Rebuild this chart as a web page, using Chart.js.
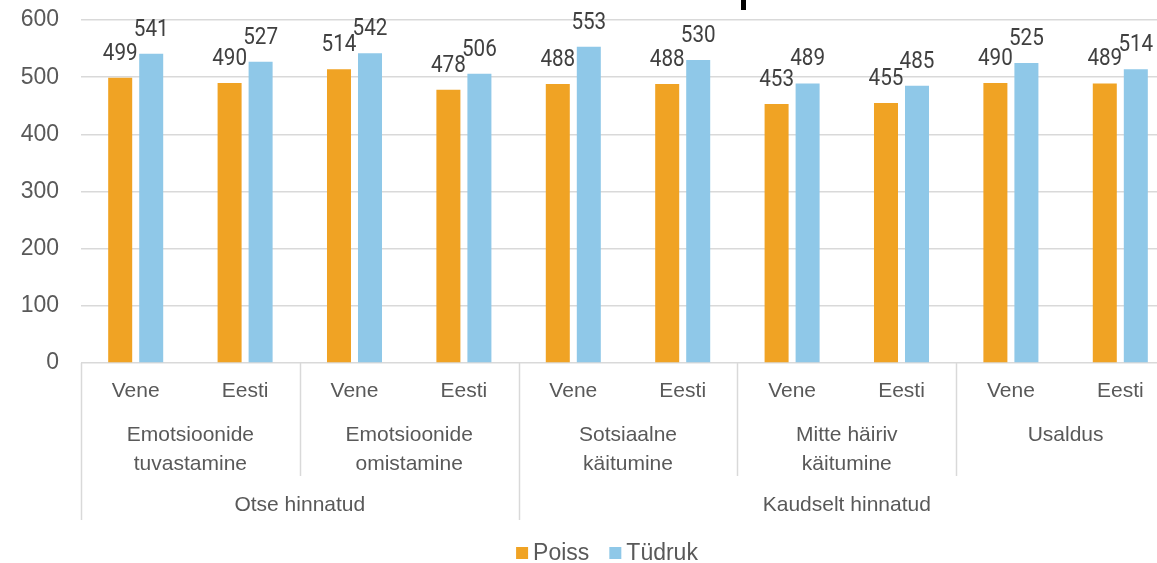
<!DOCTYPE html>
<html>
<head>
<meta charset="utf-8">
<script src="https://cdn.jsdelivr.net/npm/chart.js@4"></script>
<style>
  html, body { margin: 0; padding: 0; background: #fff; overflow: hidden; }
  #wrap { width: 1157px; height: 563px; overflow: hidden; }
</style>
</head>
<body>
<div id="wrap"><canvas id="chart" width="1214" height="563"></canvas></div>
<script>
// Chart data
const languages = ['Vene', 'Eesti', 'Vene', 'Eesti', 'Vene', 'Eesti', 'Vene', 'Eesti', 'Vene', 'Eesti'];
const skills = [['Emotsioonide', 'tuvastamine'], ['Emotsioonide', 'omistamine'], ['Sotsiaalne', 'käitumine'], ['Mitte häiriv', 'käitumine'], ['Usaldus']];
const ratings = ['Otse hinnatud', 'Kaudselt hinnatud'];
const skillsPerRating = [2, 3];
const poiss = [499, 490, 514, 478, 488, 488, 453, 455, 490, 489];
const tudruk = [541, 527, 542, 506, 553, 530, 489, 485, 525, 514];
const yTicks = [0, 100, 200, 300, 400, 500, 600];

// Colours and fonts
var orange = '#F0A324';
var blue = '#8FC8E8';
var textGray = '#595959';
var lineGray = '#D9D9D9';
var fontFamily = '"Liberation Sans", Arial, sans-serif';

const labels = languages.map((l, i) => skills[Math.floor(i / 2)].join(' ') + ' ' + l);

// multi-level category axis, value labels and legend
const decorations = {
  id: 'decorations',
  afterDatasetsDraw(chart) {
    const ctx = chart.ctx;
    const area = chart.chartArea;
    const x = chart.scales.x;
    const catW = (area.right - area.left) / languages.length;

    // value labels above the bars
    ctx.save();
    ctx.fillStyle = '#404040';
    ctx.textAlign = 'center';
    ctx.textBaseline = 'alphabetic';
    ctx.font = '24px Roboto';
    chart.data.datasets.forEach((ds, di) => {
      chart.getDatasetMeta(di).data.forEach((bar, i) => {
        ctx.save();
        ctx.translate(bar.x, bar.y - 18);
        ctx.scale(0.86, 1);
        ctx.fillText(String(ds.data[i]), 0, 0);
        ctx.restore();
      });
    });
    ctx.restore();

    // category labels
    ctx.save();
    ctx.fillStyle = textGray;
    ctx.textAlign = 'center';
    ctx.textBaseline = 'middle';
    ctx.font = '21px ' + fontFamily;
    languages.forEach((l, i) => {
      ctx.fillText(l, x.getPixelForValue(i), area.bottom + 28);
    });
    skills.forEach((s, g) => {
      const cx = area.left + catW * (g * 2 + 1);
      s.forEach((line, k) => ctx.fillText(line, cx, area.bottom + 72 + k * 29));
    });
    let start = 0;
    ratings.forEach((r, k) => {
      const n = skillsPerRating[k] * 2;
      const cx = area.left + catW * (start + n / 2);
      ctx.fillText(r, cx, area.bottom + 142);
      start += n;
    });

    // separators
    ctx.strokeStyle = lineGray;
    ctx.lineWidth = 1.5;
    const ratingEdges = [0];
    skillsPerRating.reduce((acc, n) => { ratingEdges.push(acc + n * 2); return acc + n * 2; }, 0);
    for (let i = 0; i <= languages.length; i += 2) {
      const px = Math.round(area.left + catW * i) + 0.5;
      const long = ratingEdges.includes(i);
      ctx.beginPath();
      ctx.moveTo(px, area.bottom);
      ctx.lineTo(px, area.bottom + (long ? 157 : 113));
      ctx.stroke();
    }

    // legend
    ctx.font = '23px ' + fontFamily;
    ctx.textAlign = 'left';
    const items = chart.data.datasets.map(d => ({ text: d.label, color: d.backgroundColor }));
    const box = 12, gapBox = 5, gapItem = 20;
    const widths = items.map(it => box + gapBox + ctx.measureText(it.text).width);
    const total = widths.reduce((a, b) => a + b, 0) + gapItem * (items.length - 1);
    let lx = chart.width / 2 - total / 2;
    const ly = 553;
    items.forEach((it, k) => {
      ctx.fillStyle = it.color;
      ctx.fillRect(lx, ly - box / 2, box, box);
      ctx.fillStyle = textGray;
      ctx.fillText(it.text, lx + box + gapBox, ly + 1);
      lx += widths[k] + gapItem;
    });

    // clipped title remnant at the top
    ctx.fillStyle = '#000';
    ctx.fillRect(741, 0, 5, 10);
    ctx.restore();
  }
};

const config = {
  type: 'bar',
  data: {
    labels: labels,
    datasets: [
      { label: 'Poiss', data: poiss, backgroundColor: orange },
      { label: 'Tüdruk', data: tudruk, backgroundColor: blue }
    ]
  },
  options: {
    responsive: false,
    animation: false,
    categoryPercentage: 0.567,
    barPercentage: 0.774,
    layout: { padding: { top: 20, right: 39, left: 0, bottom: 0 } },
    plugins: {
      legend: { display: false },
      tooltip: { enabled: false },
      title: { display: false }
    },
    scales: {
      x: {
        grid: { display: false },
        border: { display: false },
        ticks: { display: false },
        afterFit: (scale) => { scale.height = 200; }
      },
      y: {
        min: 0,
        max: 600,
        afterBuildTicks: (scale) => { scale.ticks = yTicks.map(v => ({ value: v })); },
        grid: { color: lineGray, lineWidth: 1.5, drawTicks: true, tickLength: 22, tickColor: 'rgba(0,0,0,0)' },
        border: { display: false },
        ticks: { color: textGray, font: { family: fontFamily, size: 23 }, padding: 0 },
        afterFit: (scale) => { scale.width = 81; }
      }
    }
  },
  plugins: [decorations]
};

var myChart = new Chart(document.getElementById('chart'), config);
</script>
</body>
</html>
